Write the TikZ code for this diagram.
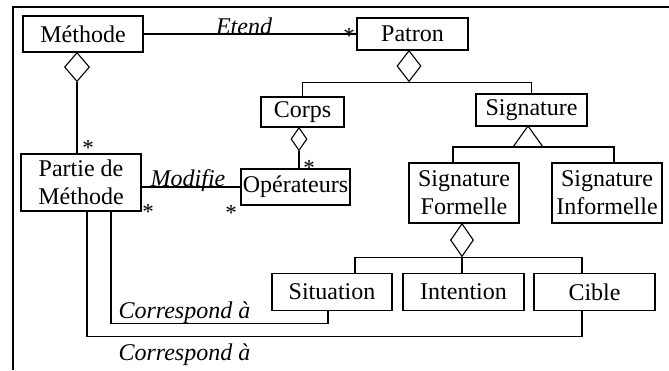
\documentclass[tikz,border=0pt]{standalone}
\usepackage{fontspec}
\setmainfont{Liberation Serif}
\usetikzlibrary{shapes.geometric}
\begin{document}
\begin{tikzpicture}[x=1pt,y=-1pt,line width=1.1pt,
  box/.style={draw, inner sep=0pt, align=center, font=\fontsize{24}{28}\selectfont},
  lbl/.style={inner sep=0pt, anchor=base, font=\fontsize{24}{28}\selectfont\itshape},
  mult/.style={inner sep=0pt, anchor=center, text height=0.68em, text depth=-0.26em, font=\fontsize{23}{28}\selectfont},
  agg/.style={draw, diamond, inner sep=0pt, anchor=north}]
\useasboundingbox (0,0) rectangle (669,370);
% frame
\draw (13,370) -- (13,7) -- (669,7);
% boxes
\node[box, minimum width=120pt, minimum height=36pt] (meth) at (83,34) {Méthode};
\node[box, minimum width=111pt, minimum height=32pt] (pat) at (412.5,34) {Patron};
\node[box, minimum width=83pt, minimum height=30pt] (corps) at (302.5,112) {Corps};
\node[box, minimum width=111pt, minimum height=32pt] (sig) at (531.5,110) {Signature};
\node[box, minimum width=120pt, minimum height=57pt] (part) at (81,182.5) {Partie de\\Méthode};
\node[box, minimum width=109pt, minimum height=36pt] (ope) at (295.5,187) {Opérateurs};
\node[box, minimum width=110pt, minimum height=60pt] (sf) at (464,193) {Signature\\Formelle};
\node[box, minimum width=110pt, minimum height=60pt] (si) at (607,193) {Signature\\Informelle};
\node[box, minimum width=120pt, minimum height=37pt] (sit) at (332,292) {Situation};
\node[box, minimum width=121pt, minimum height=37pt] (int) at (463.5,292) {Intention};
\node[box, minimum width=121pt, minimum height=37pt] (cib) at (594.5,292) {Cible};
% aggregation diamonds
\node[agg, minimum width=25pt, minimum height=29pt] (d1) at (77,52) {};
\node[agg, minimum width=24pt, minimum height=31pt] (d2) at (409,50) {};
\node[agg, minimum width=16pt, minimum height=23pt] (d3) at (299,127) {};
\node[agg, minimum width=23pt, minimum height=33pt] (d4) at (462,223) {};
% Etend
\draw (meth.east) -- (pat.west);
\node[lbl] (etend) at (244,34) {Etend};
\node[mult] (m1) at (349,40) {*};
% Methode - Partie
\draw (d1.south) -- (d1.south |- part.north);
\node[mult] (m2) at (88,152) {*};
% Patron - Corps / Signature
\draw (corps.north) |- (d2.south) -| (sig.north);
% Corps - Operateurs
\draw (d3.south) -- (d3.south |- ope.north);
\node[mult] (m5) at (309,172) {*};
% Modifie
\draw (part.east |- ope.west) -- (ope.west);
\node[lbl] (modif) at (188,186) {Modifie};
\node[mult] (m3) at (148,216) {*};
\node[mult] (m4) at (231,217) {*};
% Signature inheritance
\coordinate (tA) at (528,126);
\coordinate (tB) at (528,147);
\draw (tA) -- ++(15,21) -- ++(-30,0) -- cycle;
\draw ([xshift=-11pt]sf.north) |- (tB) -| ([xshift=7pt]si.north);
% Signature Formelle parts
\draw ([xshift=23pt]sit.north) |- (d4.south) -| ([xshift=-12.5pt]cib.north);
\draw (d4.south) -- (d4.south |- int.north);
% Correspond a
\draw ([xshift=30pt]part.south) -- ++(0,112) -| ([xshift=-4pt]sit.south);
\draw ([xshift=6pt]part.south) -- ++(0,125) -| ([xshift=-12.5pt]cib.south);
\node[lbl, anchor=base west] (c1) at (118,318) {Correspond à};
\node[lbl, anchor=base west] (c2) at (118,360) {Correspond à};
\end{tikzpicture}
\end{document}
